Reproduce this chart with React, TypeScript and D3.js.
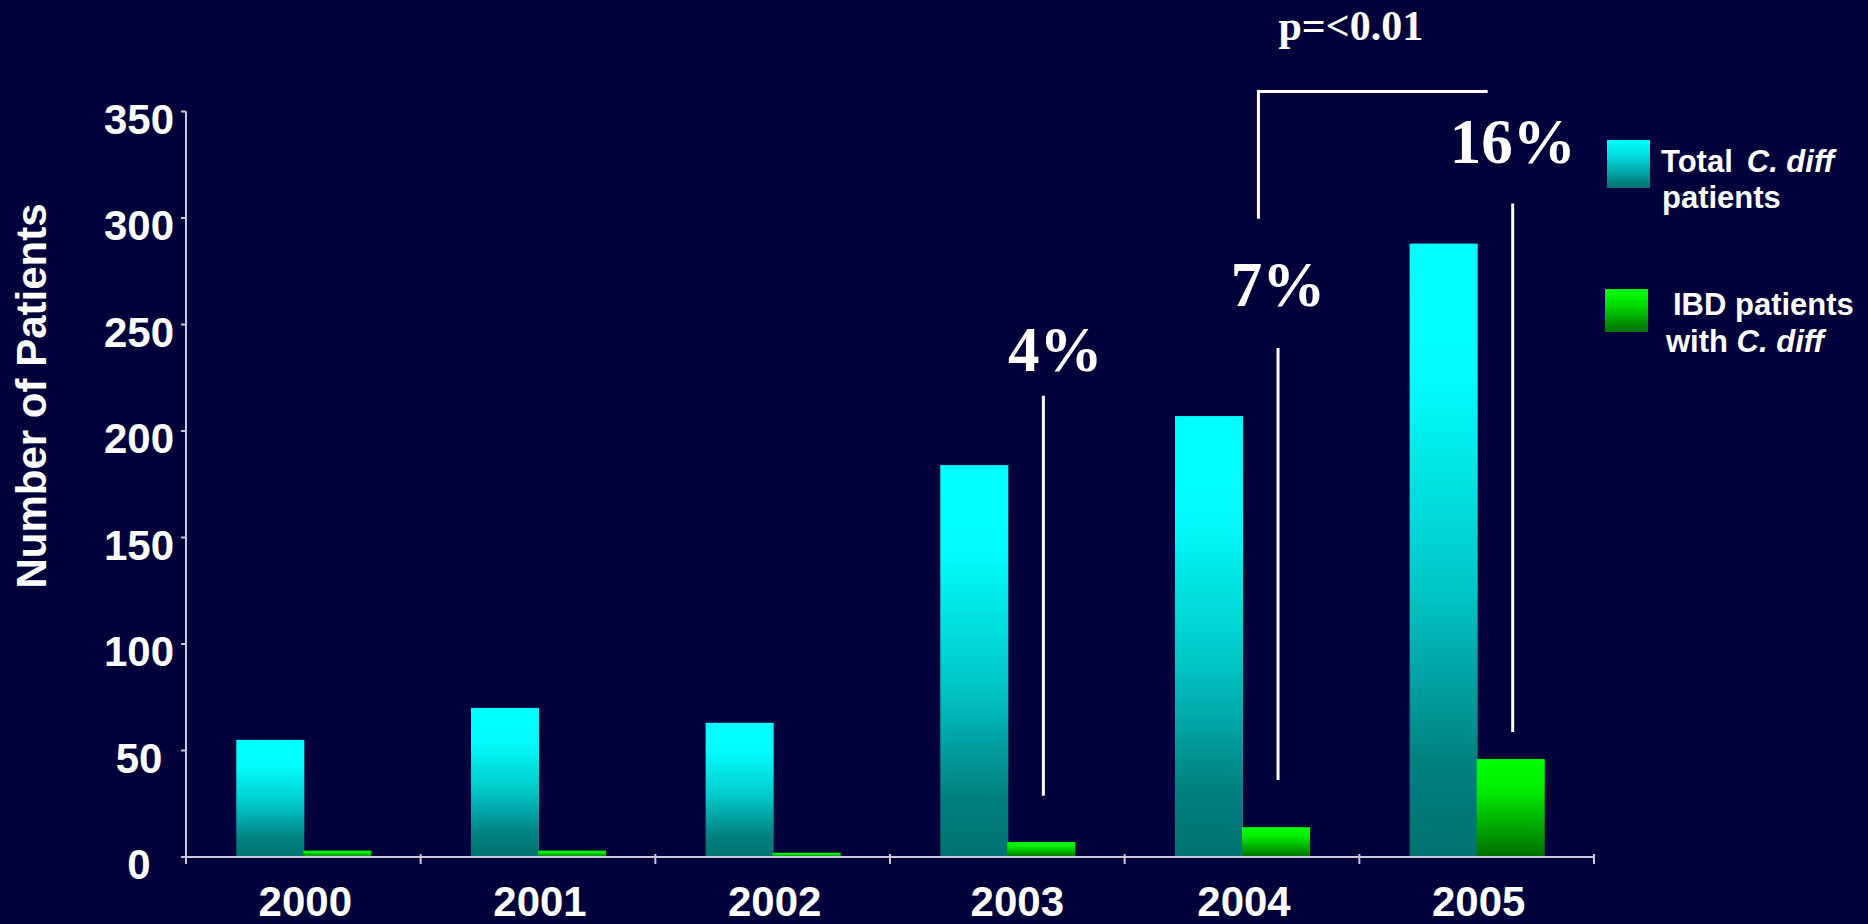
import React from "react";
import * as d3 from "d3";

const years = ["2000", "2001", "2002", "2003", "2004", "2005"];
const totalCdiff = [55, 70, 63, 184, 207, 288];
const ibdCdiff = [3, 3, 2, 7, 14, 46];
const yTicks = [0, 50, 100, 150, 200, 250, 300, 350];

// percentage call-outs (values in data units)
const pctYears = ["2003", "2004", "2005"];
const pctLabels = ["4%", "7%", "16%"];
const pctLabelValue = [228, 258.5, 326];
const pctLineTop = [216.6, 239, 306.8];
const pctLineBottom = [28.7, 36.2, 58.7];

const pText = "p=<0.01";

const W = 1868;
const H = 924;
const BG = "#00003a";
const AXIS = "#c8c8d8";
const SANS = "'Liberation Sans', Arial, Helvetica, sans-serif";
const SERIF = "'Liberation Serif', 'Times New Roman', Times, serif";

export default function App() {
  const x = d3.scaleBand<string>().domain(years).range([186, 1594]).paddingInner(0).paddingOuter(0);
  const y = d3.scaleLinear().domain([0, 350]).range([857, 111.5]);
  const bw = x.bandwidth() * 0.29;
  const center = (yr: string) => (x(yr) as number) + x.bandwidth() / 2;

  const bracketLeft = (x("2004") as number) + x.bandwidth() * 0.57;
  const bracketRight = center("2005") + 11;
  const bracketY = y(359.4);
  const bracketBottom = y(299.7);

  return (
    <svg
      width={W}
      height={H}
      style={{ position: "absolute", left: 0, top: 0, display: "block" }}
    >
      <defs>
        <linearGradient id="cyanGrad" x1="0" y1="0" x2="0" y2="1">
          <stop offset="0" stopColor="#00ffff" />
          <stop offset="0.22" stopColor="#00fcfc" />
          <stop offset="0.55" stopColor="#00c8c8" />
          <stop offset="0.85" stopColor="#007f7f" />
          <stop offset="1" stopColor="#007272" />
        </linearGradient>
        <linearGradient id="greenGrad" x1="0" y1="0" x2="0" y2="1">
          <stop offset="0" stopColor="#00ff00" />
          <stop offset="0.3" stopColor="#00ee00" />
          <stop offset="0.7" stopColor="#00a600" />
          <stop offset="1" stopColor="#006e00" />
        </linearGradient>
        <linearGradient id="cyanLeg" x1="0" y1="0" x2="0" y2="1">
          <stop offset="0" stopColor="#00ffff" />
          <stop offset="0.3" stopColor="#00e0e0" />
          <stop offset="1" stopColor="#007070" />
        </linearGradient>
        <linearGradient id="greenLeg" x1="0" y1="0" x2="0" y2="1">
          <stop offset="0" stopColor="#00ff00" />
          <stop offset="0.35" stopColor="#00dd00" />
          <stop offset="1" stopColor="#007000" />
        </linearGradient>
      </defs>
      <rect x={0} y={0} width={W} height={H} fill={BG} />

      {/* Bars */}
      {years.map((yr, i) => (
        <g key={yr}>
          <rect
            x={center(yr) - bw + 1}
            y={y(totalCdiff[i])}
            width={bw}
            height={y(0) - y(totalCdiff[i])}
            fill="url(#cyanGrad)"
          />
          <rect
            x={center(yr)}
            y={y(ibdCdiff[i])}
            width={bw}
            height={y(0) - y(ibdCdiff[i])}
            fill="url(#greenGrad)"
          />
        </g>
      ))}

      {/* Y axis */}
      <line x1={186} x2={186} y1={y(350)} y2={y(0) + 7} stroke={AXIS} strokeWidth={2} />
      {yTicks.map((t) => (
        <g key={t}>
          <line x1={181} x2={186} y1={y(t)} y2={y(t)} stroke={AXIS} strokeWidth={2} />
          <text
            x={139}
            y={y(t) + 22}
            textAnchor="middle"
            fill="#ffffff"
            fontFamily={SANS}
            fontWeight="bold"
            fontSize={42}
          >
            {t}
          </text>
        </g>
      ))}

      {/* X axis */}
      <line x1={186} x2={1594} y1={y(0)} y2={y(0)} stroke={AXIS} strokeWidth={2} />
      {[...years.map((yr) => x(yr) as number), 1594].map((px, i) => (
        <line key={i} x1={px} x2={px} y1={y(0) - 3} y2={y(0) + 7} stroke={AXIS} strokeWidth={2} />
      ))}
      {years.map((yr) => (
        <text
          key={yr}
          x={center(yr) + (yr === "2003" ? 10 : 2)}
          y={y(0) + 59}
          textAnchor="middle"
          fill="#ffffff"
          fontFamily={SANS}
          fontWeight="bold"
          fontSize={42}
        >
          {yr}
        </text>
      ))}

      {/* Y axis title */}
      <text
        transform={`translate(46, 396) rotate(-90)`}
        textAnchor="middle"
        fill="#ffffff"
        fontFamily={SANS}
        fontWeight="bold"
        fontSize={42}
      >
        Number of Patients
      </text>

      {/* Percent call-outs */}
      {pctYears.map((yr, i) => {
        const lx = center(yr) + bw / 2 + 2;
        return (
          <g key={yr}>
            <line
              x1={lx}
              x2={lx}
              y1={y(pctLineTop[i])}
              y2={y(pctLineBottom[i])}
              stroke="#ffffff"
              strokeWidth={3}
            />
            <text
              x={lx + (i === 0 ? 12 : 0)}
              y={y(pctLabelValue[i])}
              textAnchor="middle"
              fill="#ffffff"
              fontFamily={SERIF}
              fontWeight="bold"
              fontSize={63}
            >
              {pctLabels[i]}
            </text>
          </g>
        );
      })}

      {/* Significance bracket */}
      <polyline
        points={`${bracketLeft},${bracketBottom} ${bracketLeft},${bracketY} ${bracketRight},${bracketY}`}
        fill="none"
        stroke="#ffffff"
        strokeWidth={3}
      />
      <text
        x={bracketLeft + 20}
        y={y(383.8)}
        fill="#ffffff"
        fontFamily={SERIF}
        fontWeight="bold"
        fontSize={42}
      >
        {pText}
      </text>

      {/* Legend */}
      <rect x={1607} y={140} width={43} height={48} fill="url(#cyanLeg)" />
      <text x={1661} y={172} fill="#ffffff" fontFamily={SANS} fontWeight="bold" fontSize={31}>
        Total
        <tspan dx={14} fontStyle="italic">C. diff</tspan>
      </text>
      <text x={1662} y={208} fill="#ffffff" fontFamily={SANS} fontWeight="bold" fontSize={31}>
        patients
      </text>
      <rect x={1605} y={289} width={43} height={43} fill="url(#greenLeg)" />
      <text x={1673} y={315} fill="#ffffff" fontFamily={SANS} fontWeight="bold" fontSize={31}>
        IBD patients
      </text>
      <text x={1666} y={352} fill="#ffffff" fontFamily={SANS} fontWeight="bold" fontSize={31}>
        with <tspan fontStyle="italic">C. diff</tspan>
      </text>
    </svg>
  );
}
